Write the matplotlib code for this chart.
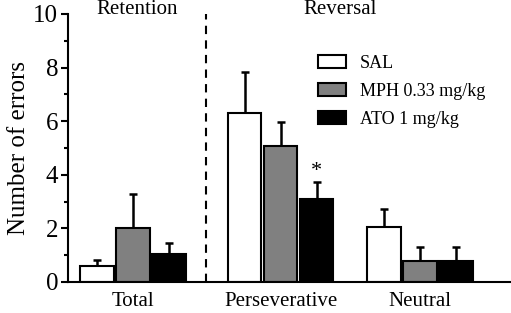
import numpy as np
import matplotlib.pyplot as plt
from matplotlib.ticker import MultipleLocator

plt.rcParams['font.family'] = ['Liberation Serif', 'DejaVu Serif']

groups = ["Total", "Perseverative", "Neutral"]
sal = [0.59, 6.29, 2.04]
sal_err = [0.24, 1.53, 0.70]
mph = [2.03, 5.07, 0.80]
mph_err = [1.27, 0.90, 0.49]
ato = [1.05, 3.09, 0.80]
ato_err = [0.42, 0.64, 0.49]
legend_labels = ["SAL", "MPH 0.33 mg/kg", "ATO 1 mg/kg"]

colors = ["white", "#808080", "black"]

fig = plt.figure(figsize=(5.11, 3.13), dpi=100)
ax = fig.add_axes([68 / 511, 1 - 282 / 313, 1 - 68 / 511 - 0.002, (282 - 14) / 313])

centers = np.array([0.0, 4.35, 8.45])
w = 0.98
offsets = [-1.06, 0.0, 1.06]
vals = [sal, mph, ato]
errs = [sal_err, mph_err, ato_err]

for i in range(3):
    x = centers + offsets[i]
    ax.bar(x, vals[i], width=w, color=colors[i], edgecolor="black",
           linewidth=1.5, label=legend_labels[i], zorder=2)
    ax.errorbar(x, vals[i], yerr=[np.zeros(3), errs[i]], fmt="none",
                ecolor="black", elinewidth=1.8, capsize=3, capthick=1.8, zorder=1)

# significance marker
ax.text(centers[1] + offsets[2], ato[1] + ato_err[1] + 0.05, "*",
        ha="center", va="bottom", fontsize=16)

ax.axvline(2.15, color="black", linestyle=(0, (4, 3)), linewidth=1.5)

ax.set_xlim(-1.91, 11.1)
ax.set_ylim(0, 10)
ax.yaxis.set_major_locator(MultipleLocator(2))
ax.yaxis.set_minor_locator(MultipleLocator(1))
ax.tick_params(axis="y", which="major", direction="out", length=5, width=1.5,
               labelsize=18, pad=2)
ax.tick_params(axis="y", which="minor", direction="out", length=3, width=1.5)
ax.set_xticks(centers)
ax.set_xticklabels(groups, fontsize=15)
ax.tick_params(axis="x", length=0, pad=7)
ax.set_ylabel("Number of errors", fontsize=18, labelpad=2)

for s in ["top", "right"]:
    ax.spines[s].set_visible(False)
for s in ["left", "bottom"]:
    ax.spines[s].set_linewidth(1.5)

fig.text(137 / 511, 1 - 10 / 313, "Retention", ha="center", va="center", fontsize=15)
fig.text(340 / 511, 1 - 10 / 313, "Reversal", ha="center", va="center", fontsize=15)

ax.legend(loc="upper left", bbox_to_anchor=(318 / 511, 1 - 55 / 313),
          bbox_transform=fig.transFigure, frameon=False, fontsize=13,
          handlelength=1.55, handleheight=0.75, labelspacing=0.6,
          handletextpad=0.75, borderaxespad=0, borderpad=0)

fig.savefig("out.png", dpi=100)
